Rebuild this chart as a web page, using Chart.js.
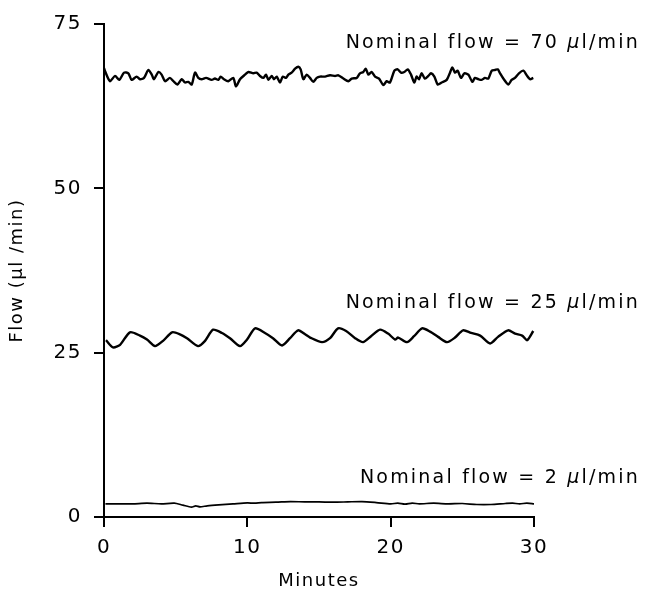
<!DOCTYPE html>
<html>
<head>
<meta charset="utf-8">
<script src="https://cdn.jsdelivr.net/npm/chart.js@4.4.1/dist/chart.umd.min.js"></script>
<style>
  html, body { margin: 0; padding: 0; background: #fff; }
  #wrap { width: 649px; height: 598px; position: relative; }
</style>
</head>
<body>
<div id="wrap"><canvas id="flowChart"></canvas></div>
<script>
// ==================== DATA ====================
const X_TICKS = [0, 10, 20, 30];
const Y_TICKS = [0, 25, 50, 75];

// nominal 70 ul/min trace (minutes, ul/min)
const flow70Min = [0.0, 0.07, 0.42, 0.77, 1.07, 1.40, 1.70, 1.93, 2.28, 2.51, 2.79, 3.09, 3.33, 3.49, 3.79, 4.02, 4.26, 4.60, 4.84, 5.12,
    5.42, 5.65, 5.88, 6.12, 6.35, 6.58, 6.81, 7.12, 7.51, 7.74, 7.98, 8.14, 8.37, 8.67, 9.02, 9.21, 9.49, 9.84, 10.07, 10.42,
    10.65, 10.88, 11.12, 11.30, 11.47, 11.70, 11.86, 12.05, 12.28, 12.47, 12.70, 12.86, 13.09, 13.33, 13.56, 13.72, 13.91, 14.14, 14.37, 14.60,
    14.84, 15.07, 15.42, 15.77, 16.12, 16.35, 16.70, 17.05, 17.28, 17.63, 17.86, 18.09, 18.26, 18.44, 18.67, 18.91, 19.19, 19.49, 19.72, 19.95,
    20.26, 20.49, 20.72, 20.95, 21.19, 21.42, 21.65, 21.81, 21.98, 22.16, 22.39, 22.63, 22.81, 23.05, 23.28, 23.56, 23.91, 24.14, 24.30, 24.49,
    24.67, 24.91, 25.14, 25.42, 25.70, 25.88, 26.12, 26.35, 26.58, 26.81, 27.05, 27.28, 27.47, 27.63, 27.86, 28.21, 28.44, 28.67, 28.95, 29.26,
    29.49, 29.72, 29.95];
const flow70Val = [68.3, 67.85, 66.3, 67.1, 66.5, 67.6, 67.5, 66.5, 67.0, 66.6, 66.8, 68.0, 67.3, 66.6, 67.7, 67.3, 66.3, 66.8, 66.3, 65.8,
    66.6, 66.1, 66.2, 65.8, 67.6, 66.8, 66.6, 66.8, 66.5, 66.7, 66.5, 67.0, 66.6, 66.3, 66.8, 65.5, 66.6, 67.3, 67.7, 67.5,
    67.6, 67.1, 66.8, 67.3, 66.5, 67.1, 66.6, 67.0, 66.1, 67.0, 66.8, 67.3, 67.6, 68.2, 68.5, 68.1, 66.6, 67.3, 66.8, 66.2,
    66.8, 67.0, 67.0, 67.2, 67.1, 67.2, 66.7, 66.3, 66.7, 66.8, 67.5, 67.7, 68.2, 67.3, 67.7, 67.0, 66.7, 65.7, 66.3, 66.1,
    67.9, 68.1, 67.6, 67.7, 68.1, 67.3, 66.1, 67.0, 66.6, 67.5, 66.7, 67.1, 67.5, 67.0, 65.8, 66.1, 66.5, 67.6, 68.4, 67.6,
    67.9, 66.8, 67.5, 67.3, 66.2, 66.8, 66.6, 66.5, 66.8, 66.7, 67.9, 68.0, 68.1, 67.5, 66.7, 65.8, 66.5, 66.8, 67.5, 67.9,
    67.2, 66.6, 66.8];

// nominal 25 ul/min trace
const flow25Min = [0.14, 0.63, 1.12, 1.81, 2.51, 3.00, 3.56, 4.12, 4.75, 5.30, 5.79, 6.56, 7.05, 7.61, 8.23, 8.79, 9.49, 9.98, 10.54, 11.23,
    11.79, 12.42, 12.98, 13.54, 14.03, 14.38, 15.21, 15.77, 16.33, 16.89, 17.52, 18.07, 18.63, 19.26, 19.82, 20.31, 20.52, 21.14, 21.63, 22.19,
    22.75, 23.31, 23.94, 24.49, 25.05, 25.61, 26.24, 26.94, 27.49, 28.19, 28.68, 29.17, 29.52, 29.95];
const flow25Val = [26.9, 25.8, 26.2, 28.1, 27.6, 27.0, 26.0, 26.8, 28.1, 27.8, 27.2, 26.0, 26.8, 28.5, 28.0, 27.2, 26.0, 27.0, 28.7, 28.0,
    27.2, 26.1, 27.2, 28.4, 27.8, 27.3, 26.6, 27.2, 28.7, 28.3, 27.2, 26.6, 27.5, 28.5, 27.9, 27.0, 27.3, 26.6, 27.5, 28.7,
    28.2, 27.4, 26.6, 27.3, 28.4, 28.0, 27.6, 26.4, 27.4, 28.4, 27.9, 27.6, 26.9, 28.3];

// nominal 2 ul/min trace
const flow2Min = [0.1, 1, 2, 3, 4, 4.9, 5.5, 6.1, 6.4, 6.7, 7.2, 8, 9, 10, 10.5, 11, 12, 13, 14, 15,
    16, 17, 18, 19, 20, 20.5, 21, 21.5, 22, 23, 24, 25, 26, 27, 28, 28.5, 29, 29.5, 30];
const flow2Val = [2.0, 2.0, 2.0, 2.1, 2.0, 2.1, 1.8, 1.5, 1.7, 1.55, 1.7, 1.85, 2.0, 2.15, 2.1, 2.2, 2.25, 2.35, 2.3, 2.3,
    2.25, 2.3, 2.35, 2.2, 2.0, 2.1, 1.95, 2.1, 2.0, 2.1, 2.0, 2.05, 1.9, 1.9, 2.05, 2.1, 2.0, 2.1, 2.0];

const NOTE_TEXT = ['Nominal flow = 70 µl/min', 'Nominal flow = 25 µl/min', 'Nominal flow = 2 µl/min'];
const NOTE_Y = [72.1, 32.6, 5.9];

// ==================== CHART ====================
const FONT = '"DejaVu Sans", sans-serif';

function toPoints(xs, ys) {
    return xs.map((x, i) => ({ x: x, y: ys[i] }));
}

// wider letter spacing for all axis text (canvas resize resets it, so set it every pass)
const spacingPlugin = {
    id: 'spacing',
    beforeLayout(chart) { chart.ctx.letterSpacing = '1.5px'; },
    beforeDraw(chart) { chart.ctx.letterSpacing = '1.5px'; }
};

// right-aligned notes, the mu drawn in italics
const notePlugin = {
    id: 'notes',
    afterDatasetsDraw(chart) {
        const ctx = chart.ctx;
        const yScale = chart.scales.y;
        const right = chart.chartArea.right + 106;
        const plain = '19px ' + FONT;
        const ital = 'italic 19px ' + FONT;
        ctx.save();
        ctx.fillStyle = '#000';
        ctx.letterSpacing = '2.2px';
        ctx.textAlign = 'left';
        ctx.textBaseline = 'middle';
        NOTE_TEXT.forEach((t, i) => {
            const parts = t.split('µ');
            const segs = [[parts[0], plain], ['µ', ital], [parts[1], plain]];
            let w = 0;
            segs.forEach(s => { ctx.font = s[1]; w += ctx.measureText(s[0]).width; });
            let x = right - w;
            const y = yScale.getPixelForValue(NOTE_Y[i]);
            segs.forEach(s => {
                ctx.font = s[1];
                ctx.fillText(s[0], x, y);
                x += ctx.measureText(s[0]).width;
            });
        });
        ctx.restore();
    }
};

function lineSet(points, width) {
    return {
        data: points,
        borderColor: '#000',
        borderWidth: width,
        pointRadius: 0,
        tension: 0.25,
        fill: false,
        clip: false
    };
}

new Chart(document.getElementById('flowChart'), {
    type: 'line',
    data: {
        datasets: [
            lineSet(toPoints(flow70Min, flow70Val), 2.4),
            lineSet(toPoints(flow25Min, flow25Val), 2.4),
            lineSet(toPoints(flow2Min, flow2Val), 1.7)
        ]
    },
    plugins: [spacingPlugin, notePlugin],
    options: {
        responsive: true,
        maintainAspectRatio: false,
        animation: false,
        layout: { padding: { top: 23, right: 115, left: 0, bottom: 0 } },
        plugins: { legend: { display: false }, tooltip: { enabled: false } },
        scales: {
            x: {
                type: 'linear',
                min: 0,
                max: 30,
                afterBuildTicks: s => { s.ticks = X_TICKS.map(v => ({ value: v })); },
                afterFit: s => { s.height = 81; },
                grid: { drawOnChartArea: false, drawTicks: true, tickLength: 10, color: '#000', lineWidth: 2 },
                border: { display: true, color: '#000', width: 2 },
                ticks: { color: '#000', font: { family: FONT, size: 20 }, padding: 9, maxRotation: 0 },
                title: { display: true, text: 'Minutes', color: '#000', font: { family: FONT, size: 18 }, padding: { top: 0, bottom: 6 } }
            },
            y: {
                min: 0,
                max: 75,
                afterBuildTicks: s => { s.ticks = Y_TICKS.map(v => ({ value: v })); },
                afterFit: s => { s.width = 104; },
                grid: { drawOnChartArea: false, drawTicks: true, tickLength: 10, color: '#000', lineWidth: 2 },
                border: { display: true, color: '#000', width: 2 },
                ticks: { color: '#000', font: { family: FONT, size: 20 }, padding: 12 },
                title: { display: true, text: 'Flow (µl /min)', color: '#000', font: { family: FONT, size: 18 }, padding: { top: 7, bottom: 0 } }
            }
        }
    }
});
</script>
</body>
</html>
